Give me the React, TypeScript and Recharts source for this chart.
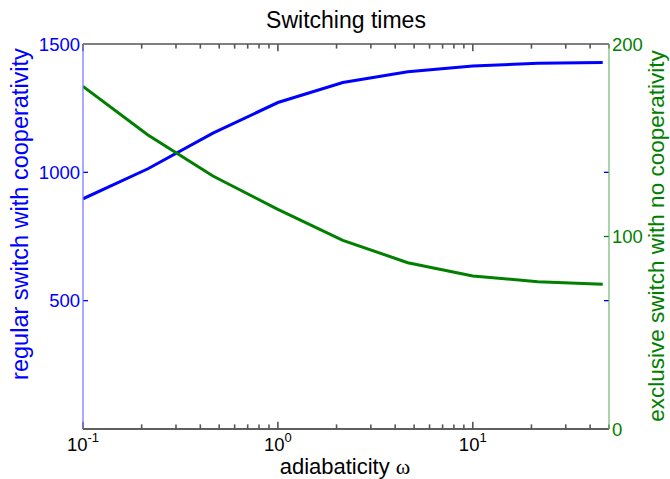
import { LineChart, Line, XAxis, YAxis, ReferenceLine, Label } from 'recharts';

// adiabaticity values (log spaced, 3 per decade)
const omega = [0.1, 0.2154, 0.4642, 1, 2.154, 4.642, 10, 21.54, 46.42];
// regular switch with cooperativity (left axis)
const regular = [897, 1014, 1153, 1272, 1350, 1392, 1414, 1425, 1428];
// exclusive switch with no cooperativity (right axis)
const exclusive = [178, 152.7, 131.4, 114.1, 98, 86.4, 79.5, 76.5, 75.2];

const xTicks = [
  0.1, 0.2, 0.3, 0.4, 0.5, 0.6, 0.7, 0.8, 0.9, 1, 2, 3, 4, 5, 6, 7, 8, 9, 10,
  20, 30, 40, 50,
];
const xMajor = [0.1, 1, 10];
const xLabels = ['-1', '0', '1'];
const leftTicks = [500, 1000, 1500];
const rightTicks = [0, 100, 200];

const data = omega.map((w, i) => ({
  w,
  regular: regular[i],
  exclusive: exclusive[i],
}));

const W = 670;
const H = 479;
const FONT = '"Liberation Sans", Arial, Helvetica, sans-serif';
const BLUE = '#0000ff';
const GREEN = '#007f00';
const GREY = '#555555';
const TS = 6; // tick size, the lines themselves are hidden
const M = 4;
// tick lengths in left-axis units (1500 units over ~385px)
const MAJOR_LEN = 28;
const MINOR_LEN = 18;

const BottomLabel = (props: any) => {
  const { x, y, payload } = props;
  const edge = y - TS - M;
  const i = xMajor.indexOf(payload.value);
  if (i < 0) return null;
  return (
    <text
      x={x}
      y={edge + 22}
      textAnchor='middle'
      fontFamily={FONT}
      fontSize={18.5}
      fill='#000'
      stroke='none'
    >
      <tspan>10</tspan>
      <tspan dy={-9} fontSize={13}>
        {xLabels[i]}
      </tspan>
    </text>
  );
};

const LeftLabel = (props: any) => {
  const { x, y, payload } = props;
  return (
    <text
      x={x + TS + M - 3}
      y={y}
      dy='0.36em'
      textAnchor='end'
      fontFamily={FONT}
      fontSize={18.5}
      fill={BLUE}
      stroke='none'
    >
      {payload.value}
    </text>
  );
};

const RightLabel = (props: any) => {
  const { x, y, payload } = props;
  return (
    <text
      x={x - TS - M + 3}
      y={y}
      dy='0.36em'
      textAnchor='start'
      fontFamily={FONT}
      fontSize={18.5}
      fill={GREEN}
      stroke='none'
    >
      {payload.value}
    </text>
  );
};

// inward tick marks at both sides of the box (left axis values)
const BlueTick = (props: any) => {
  const { x1, x2, y1 } = props;
  if (x1 == null) return <g />;
  const l = Math.min(x1, x2);
  const r = Math.max(x1, x2);
  return (
    <g>
      <line x1={l} x2={l + 5} y1={y1} y2={y1} stroke={BLUE} strokeWidth={1.3} />
      <line x1={r - 5} x2={r} y1={y1} y2={y1} stroke={BLUE} strokeWidth={1.3} />
    </g>
  );
};

// inward tick marks on the right side (right axis values)
const GreenTick = (props: any) => {
  const { x1, x2, y1 } = props;
  if (x1 == null) return <g />;
  const r = Math.max(x1, x2);
  return (
    <line x1={r - 5} x2={r} y1={y1} y2={y1} stroke={GREEN} strokeWidth={1.3} />
  );
};

export default function App() {
  return (
    <div
      style={{
        position: 'absolute',
        left: 0,
        top: 0,
        width: W,
        height: H,
        background: '#fff',
      }}
    >
      <LineChart
        width={W}
        height={H}
        data={data}
        margin={{ top: 44, right: 0, bottom: 0, left: 0 }}
      >
        <XAxis
          dataKey='w'
          type='number'
          scale='log'
          domain={[0.1, 50]}
          allowDataOverflow
          ticks={xTicks}
          interval={0}
          height={50}
          tickSize={TS}
          tickMargin={M}
          tickLine={false}
          tick={BottomLabel}
          stroke={GREY}
          axisLine={{ stroke: GREY, strokeWidth: 1.6 }}
        >
          <Label
            content={() => (
              <text
                x={345}
                y={474}
                textAnchor='middle'
                fontFamily={FONT}
                fontSize={22}
                fill='#000'
              >
                adiabaticity{' '}
                <tspan fontFamily='"Liberation Serif", "DejaVu Serif", serif'>
                  ω
                </tspan>
              </text>
            )}
          />
        </XAxis>
        <YAxis
          yAxisId='left'
          domain={[0, 1500]}
          ticks={leftTicks}
          interval={0}
          width={83}
          tickSize={TS}
          tickMargin={M}
          tickLine={false}
          tick={LeftLabel}
          axisLine={{ stroke: '#7070ff', strokeWidth: 1.2 }}
        >
          <Label
            content={() => (
              <g fontFamily={FONT}>
                <text
                  x={346}
                  y={28}
                  textAnchor='middle'
                  fontSize={23}
                  fill='#000'
                >
                  Switching times
                </text>
                <text
                  x={28}
                  y={214}
                  textAnchor='middle'
                  fontSize={23.5}
                  fill={BLUE}
                  transform='rotate(-90 28 214)'
                >
                  regular switch with cooperativity
                </text>
              </g>
            )}
          />
        </YAxis>
        <YAxis
          yAxisId='right'
          orientation='right'
          domain={[0, 200]}
          ticks={rightTicks}
          interval={0}
          width={61}
          tickSize={TS}
          tickMargin={M}
          tickLine={false}
          tick={RightLabel}
          axisLine={{ stroke: '#70b870', strokeWidth: 1.2 }}
        >
          <Label
            content={() => (
              <text
                x={664}
                y={236}
                textAnchor='middle'
                fontFamily={FONT}
                fontSize={22.5}
                fill={GREEN}
                transform='rotate(-90 664 236)'
              >
                exclusive switch with no cooperativity
              </text>
            )}
          />
        </YAxis>
        <ReferenceLine
          yAxisId='left'
          y={leftTicks[2]}
          stroke={GREY}
          strokeWidth={1.6}
          ifOverflow='visible'
        />
        <ReferenceLine
          yAxisId='left'
          y={0}
          stroke={GREY}
          strokeWidth={1.6}
          ifOverflow='visible'
        />
        {xTicks.map((t) => {
          const len = xMajor.includes(t) ? MAJOR_LEN : MINOR_LEN;
          return [
            <ReferenceLine
              key={'b' + t}
              yAxisId='left'
              segment={[
                { x: t, y: 0 },
                { x: t, y: len },
              ]}
              stroke={GREY}
              strokeWidth={1.6}
              ifOverflow='visible'
            />,
            <ReferenceLine
              key={'t' + t}
              yAxisId='left'
              segment={[
                { x: t, y: 1500 - len },
                { x: t, y: 1500 },
              ]}
              stroke={GREY}
              strokeWidth={1.6}
              ifOverflow='visible'
            />,
          ];
        })}
        {leftTicks.slice(0, 2).map((v) => (
          <ReferenceLine
            key={'l' + v}
            yAxisId='left'
            y={v}
            shape={BlueTick}
            ifOverflow='visible'
          />
        ))}
        <ReferenceLine
          yAxisId='right'
          y={rightTicks[1]}
          shape={GreenTick}
          ifOverflow='visible'
        />
        <Line
          yAxisId='left'
          dataKey='regular'
          stroke={BLUE}
          strokeWidth={3}
          dot={false}
          type='linear'
          isAnimationActive={false}
        />
        <Line
          yAxisId='right'
          dataKey='exclusive'
          stroke={GREEN}
          strokeWidth={3}
          dot={false}
          type='linear'
          isAnimationActive={false}
        />
      </LineChart>
    </div>
  );
}
